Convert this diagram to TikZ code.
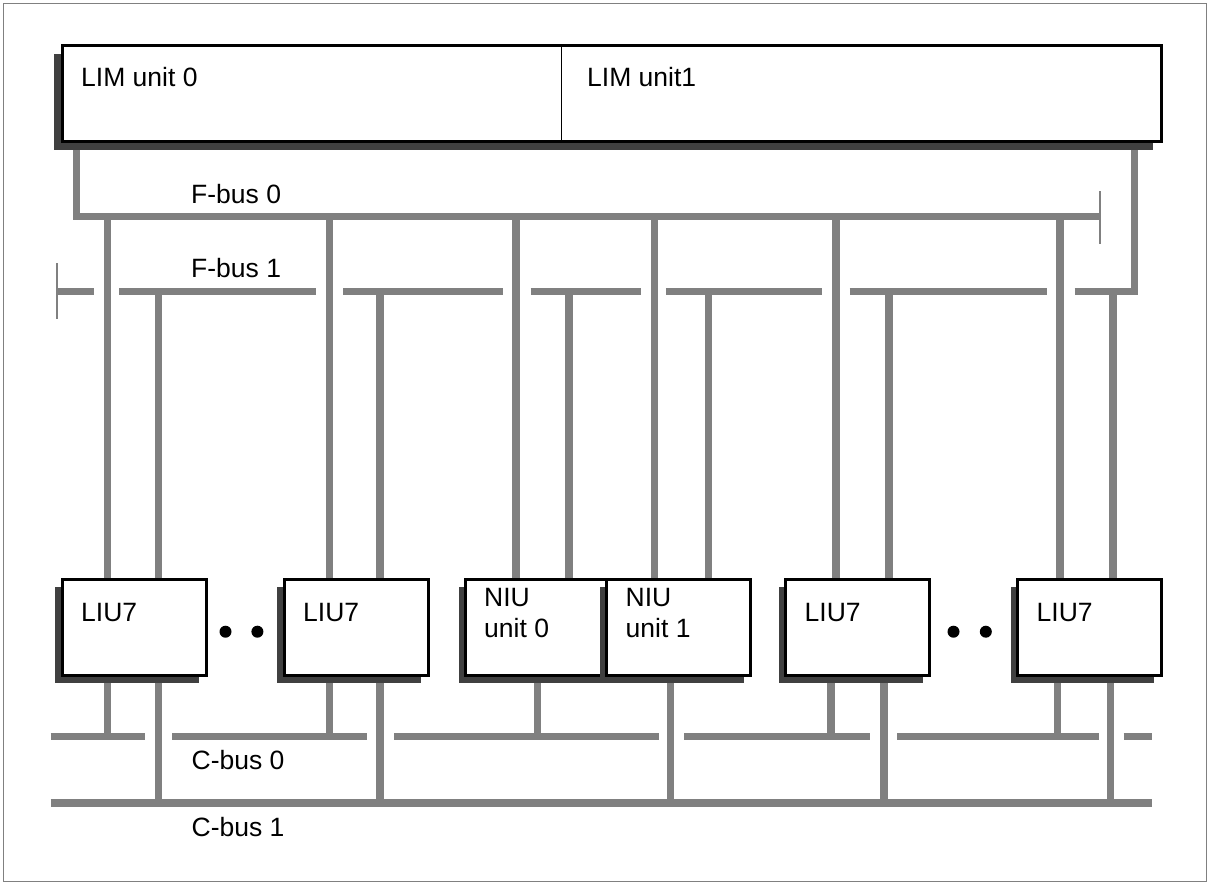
\documentclass[tikz,border=0pt]{standalone}
\usepackage{fontspec}
\setmainfont{Liberation Sans}
\usetikzlibrary{calc,positioning,shadows,backgrounds}
\definecolor{busgray}{RGB}{128,128,128}
\definecolor{shadegray}{RGB}{64,64,64}

\begin{document}
\begin{tikzpicture}[x=1pt,y=-1pt,font=\fontsize{26.5}{31}\selectfont,
    bus/.style={busgray,line width=7.5pt},
    stopper/.style={busgray,line width=2.5pt},
    unit/.style={draw,line width=3pt,fill=white,inner sep=0pt,outer sep=0pt,
      anchor=north west,drop shadow={shadow xshift=-#1,shadow yshift=-#1,
      fill=shadegray,opacity=1}},
    unit/.default=7pt,
    card/.style={unit,minimum width=144pt,minimum height=96pt},
    txt/.style={inner sep=0pt,anchor=base west},
    dot/.style={circle,fill=black,inner sep=0pt,minimum size=12pt}]
  \useasboundingbox (0,0) rectangle (1210,884);
  \draw[busgray,line width=1pt] (3.5,3.5) rectangle (1206.5,881.5);

  \node[unit=8.5pt,minimum width=1099pt,minimum height=96pt] (lim) at (62,45.5) {};
  \draw[line width=1pt] ($(lim.north west)+(499,0)$) -- ($(lim.south west)+(499,0)$);
  \node[txt] (lim0) at ($(lim.north west)+(19,40.5)$) {LIM unit 0};
  \node[txt] (lim1) at ($(lim.north west)+(525,40.5)$) {LIM unit1};

  \node[card] (liu1) at (62,579.5) {};
  \node[card] (liu2) at (284,579.5) {};
  \node[card] (niu0) at (465.5,579.5) {};
  \node[card] (niu1) at (606.5,579.5) {};
  \node[card] (liu3) at (785.5,579.5) {};
  \node[card,minimum width=143.5pt] (liu4) at (1017.5,579.5) {};
  \foreach \u in {liu1,liu2,liu3,liu4}
    \node[txt] (txt\u) at ($(\u.north west)+(19,41.5)$) {LIU7};
  \node[txt,align=left] (txtniu0) at ($(niu0.north west)+(18.5,58.2)$) {NIU\\unit 0};
  \node[txt,align=left] (txtniu1) at ($(niu1.north west)+(19,58.2)$) {NIU\\unit 1};

  \node[dot] (more1a) at (225.5,631.7) {};
  \node[dot] (more1b) at (257.4,631.7) {};
  \node[dot] (more2a) at (953.5,631.7) {};
  \node[dot] (more2b) at (985.8,631.7) {};

  \node[txt] (fbus0) at (191,203.3) {F-bus 0};
  \node[txt] (fbus1) at (191,277.7) {F-bus 1};
  \node[txt] (cbus0) at (191.5,769) {C-bus 0};
  \node[txt] (cbus1) at (191.5,836) {C-bus 1};

  \begin{pgfonlayer}{background}
    \coordinate (fb0w) at (76.5,216.3);
    \coordinate (fb0e) at (1100,216.3);
    \draw[bus] (fb0w |- lim.south) -- (fb0w) -- (fb0e);
    \draw[stopper] ($(fb0e)+(0,-25)$) -- ($(fb0e)+(0,28)$);
    \coordinate (fb1w) at (57.2,291.3);
    \coordinate (fb1e) at (1134.7,291.3);
    \draw[stopper] ($(fb1w)+(0,-28)$) -- ($(fb1w)+(0,28)$);
    \foreach \a/\b in {57.2/93.6,119/315.5,343/503,530.6/641,665.8/822,849.5/1047}
      \draw[bus] (\a,291.3) -- (\b,291.3);
    \draw[bus] (1074.6,291.3) -- (fb1e) -- (fb1e |- lim.south);
    \foreach \a/\b in {50.7/144.5,172/367,394/659,684/870,897/1098.7,1123.5/1151.8}
      \draw[bus] (\a,736.3) -- (\b,736.3);
    \draw[bus] (50.7,803) -- (1151.8,803);

    \foreach \u/\x in {liu1/107.7,liu2/329.3,niu0/516,niu1/654.7,liu3/836,liu4/1060}{
      \coordinate (f0\u) at (\x,216.3);
      \draw[bus] (f0\u) -- (f0\u |- \u.north);}
    \foreach \u/\x in {liu1/158.6,liu2/379.8,niu0/569,niu1/708.3,liu3/889,liu4/1113}{
      \coordinate (f1\u) at (\x,291.3);
      \draw[bus] (f1\u) -- (f1\u |- \u.north);}
    \foreach \u/\x in {liu1/107.7,liu2/329.3,niu0/537.3,liu3/831,liu4/1057.3}{
      \coordinate (c0\u) at (\x,736.3);
      \draw[bus] (c0\u) -- (c0\u |- \u.south);}
    \foreach \u/\x in {liu1/158.6,liu2/379.8,niu1/670.3,liu3/884,liu4/1110.7}{
      \coordinate (c1\u) at (\x,803);
      \draw[bus] (c1\u) -- (c1\u |- \u.south);}
  \end{pgfonlayer}
\end{tikzpicture}
\end{document}
